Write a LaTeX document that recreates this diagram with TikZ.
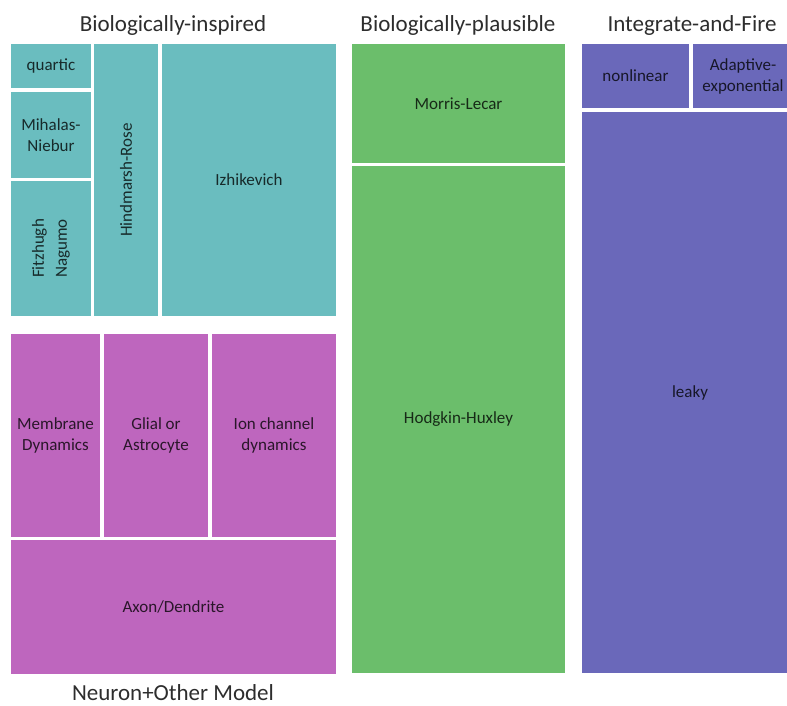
\documentclass[tikz,border=0pt]{standalone}
\usepackage{fontspec}
\setmainfont{Carlito}
\definecolor{tealc}{RGB}{106,189,191}
\definecolor{greenc}{RGB}{107,190,107}
\definecolor{purplec}{RGB}{106,104,186}
\definecolor{pinkc}{RGB}{190,102,190}
\definecolor{titlec}{RGB}{45,45,45}
\begin{document}
\begin{tikzpicture}[x=1pt,y=-1pt,
  cell/.style={fill=#1, text=#1!22!black, inner sep=0pt, outer sep=0pt, align=center,
    font=\fontsize{17}{21}\selectfont},
  title/.style={anchor=base, text=titlec, inner sep=0pt, font=\fontsize{23}{27}\selectfont}]
\useasboundingbox (0,0) rectangle (787,706);
\clip (0,0) rectangle (787,706);
% Biologically-inspired
\node[cell=tealc, minimum width=80, minimum height=44] (quartic) at (51,66) {quartic};
\node[cell=tealc, minimum width=80, minimum height=86] (mihalas) at (51,135) {Mihalas-\\Niebur};
\node[cell=tealc, rotate=90, minimum width=135, minimum height=80,
  font=\fontsize{17}{23}\selectfont] (fitz) at (51,248.5) {Fitzhugh\\Nagumo};
\node[cell=tealc, rotate=90, minimum width=272, minimum height=64] (hind) at (126,180) {Hindmarsh-Rose};
\node[cell=tealc, minimum width=174, minimum height=272] (izh) at (249,180) {Izhikevich};
% Neuron+Other Model
\node[cell=pinkc, minimum width=89, minimum height=203] (memb) at (55.5,435.5) {Membrane\\Dynamics};
\node[cell=pinkc, minimum width=104, minimum height=203] (glial) at (156,435.5) {Glial or\\Astrocyte};
\node[cell=pinkc, minimum width=124, minimum height=203] (ion) at (274,435.5) {Ion channel\\dynamics};
\node[cell=pinkc, minimum width=325, minimum height=134] (axon) at (173.5,607) {Axon/Dendrite};
% Biologically-plausible
\node[cell=greenc, minimum width=213, minimum height=119] (morris) at (458.5,103.5) {Morris-Lecar};
\node[cell=greenc, minimum width=213, minimum height=507] (hh) at (458.5,419.5) {Hodgkin-Huxley};
% Integrate-and-Fire
\node[cell=purplec, minimum width=107, minimum height=64] (nonlin) at (635.5,76) {nonlinear};
\node[cell=purplec, minimum width=100, minimum height=64] (adexp) at (743,76) {Adaptive-\\exponential};
\node[cell=purplec, minimum width=216, minimum height=561] (leaky) at (690,392.5) {leaky};
% titles
\node[title] (t1) at (173,32) {Biologically-inspired};
\node[title] (t2) at (458,32) {Biologically-plausible};
\node[title] (t3) at (692,32) {Integrate-and-Fire};
\node[title] (t4) at (173,700) {Neuron+Other Model};
\end{tikzpicture}
\end{document}
